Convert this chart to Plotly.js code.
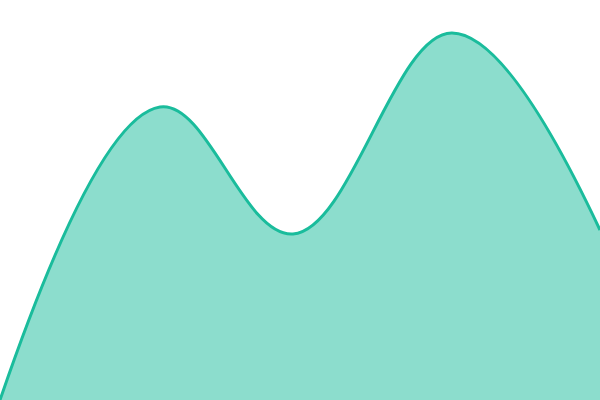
<!DOCTYPE html>
<html>
<head>
<meta charset="utf-8">
<script src="https://cdn.plot.ly/plotly-3.0.1.min.js"></script>
<style>
  html, body { margin: 0; padding: 0; background: #fff; }
  #chart { width: 600px; height: 400px; }
</style>
</head>
<body>
<div id="chart"></div>
<script>
// turning points
const xs = [0, 160, 293, 452, 600];
const values = [0, 293, 166, 367, 170];

Plotly.newPlot('chart', [{
  x: xs,
  y: values,
  type: 'scatter',
  mode: 'lines',
  fill: 'tozeroy',
  fillcolor: 'rgba(26,188,156,0.5)',
  line: { color: '#1abc9c', width: 3, shape: 'spline', smoothing: 1.1 },
  hoverinfo: 'none'
}], {
  width: 600,
  height: 400,
  margin: { l: 0, r: 0, t: 0, b: 0 },
  paper_bgcolor: '#fff',
  plot_bgcolor: '#fff',
  showlegend: false,
  xaxis: { range: [0, 600], visible: false, fixedrange: true },
  yaxis: { range: [0, 400], visible: false, fixedrange: true }
}, { staticPlot: true });
</script>
</body>
</html>
